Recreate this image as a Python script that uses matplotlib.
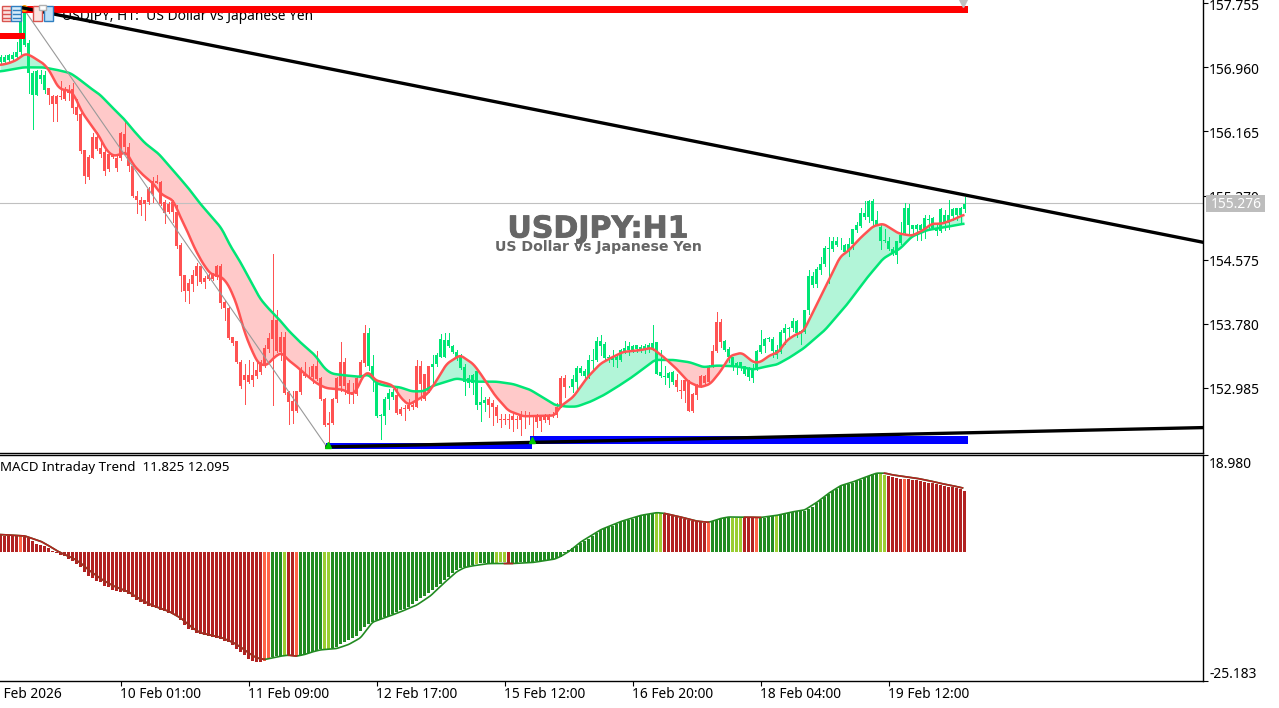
import numpy as np
import matplotlib
matplotlib.use("Agg")
import matplotlib.pyplot as plt
import matplotlib.patheffects as pe
from matplotlib.patches import Rectangle
from matplotlib.transforms import ScaledTranslation

# ---------------- data ----------------
highs = [157.11,157.11,157.13,157.15,157.28,157.65,157.69,157.30,156.91,156.93,
156.93,156.91,156.71,156.62,156.62,156.79,156.72,156.74,156.76,156.57,
156.39,155.94,155.87,156.14,156.16,156.06,155.93,155.89,155.89,155.87,
156.16,156.29,156.02,155.75,155.42,155.35,155.31,155.48,155.60,155.63,
155.55,155.31,155.29,155.31,155.25,154.78,154.38,154.34,154.44,154.53,
154.50,154.37,154.40,154.41,154.51,154.52,154.07,153.99,153.61,153.57,
153.33,153.28,153.33,153.30,153.30,153.33,153.51,153.66,154.65,153.95,
153.68,153.68,152.95,152.95,152.94,153.24,153.30,153.24,153.28,153.44,
153.12,152.86,152.68,152.86,153.12,153.55,153.35,153.08,153.04,153.12,
153.33,153.76,153.73,153.39,153.08,152.66,152.87,152.97,152.97,153.01,
152.75,152.77,152.85,152.79,153.33,153.32,153.16,153.26,153.39,153.41,
153.65,153.66,153.66,153.51,153.45,153.40,153.28,153.14,153.16,153.20,
152.99,152.87,152.87,152.83,152.77,152.66,152.66,152.66,152.68,152.64,
152.69,152.69,152.68,152.64,152.66,152.64,152.66,152.66,152.68,152.79,
153.13,153.14,153.01,153.14,153.26,153.25,153.22,153.39,153.47,153.61,
153.64,153.55,153.39,153.45,153.39,153.47,153.57,153.55,153.52,153.52,
153.51,153.53,153.54,153.76,153.55,153.45,153.26,153.18,153.19,153.15,
153.08,153.10,153.08,152.92,153.03,153.14,153.14,153.27,153.51,153.92,
153.84,153.58,153.49,153.37,153.30,153.31,153.26,153.24,153.28,153.45,
153.70,153.60,153.61,153.61,153.51,153.70,153.78,153.74,153.85,153.82,
153.70,153.95,154.44,154.42,154.48,154.61,154.74,154.86,154.86,154.85,
154.84,154.77,154.84,154.96,155.04,155.22,155.30,155.32,155.33,155.18,
155.00,154.96,154.85,154.73,154.81,155.04,155.28,155.26,155.01,155.02,
155.02,155.13,155.13,155.10,155.02,155.21,155.19,155.31,155.21,155.22,155.23,155.35]
body_top = [157.09,157.09,157.11,157.11,157.15,157.57,157.65,157.26,156.89,156.91,
156.86,156.86,156.70,156.61,156.61,156.60,156.68,156.68,156.69,156.47,
156.38,155.93,155.85,156.09,156.09,155.96,155.91,155.88,155.87,155.84,
156.14,156.13,155.97,155.73,155.37,155.32,155.31,155.45,155.55,155.55,
155.54,155.29,155.27,155.29,155.17,154.75,154.38,154.28,154.38,154.49,
154.49,154.35,154.38,154.39,154.50,154.50,154.05,153.98,153.61,153.57,
153.31,153.14,153.14,153.14,153.20,153.30,153.48,153.60,153.83,153.83,
153.61,153.61,152.93,152.82,152.94,153.22,153.15,153.13,153.26,153.26,
153.10,152.85,152.55,152.85,153.10,153.31,153.30,153.04,152.93,153.11,
153.30,153.66,153.66,153.26,153.04,152.65,152.85,152.92,152.93,152.90,
152.72,152.73,152.77,152.77,153.26,153.26,153.15,153.25,153.28,153.39,
153.59,153.58,153.58,153.50,153.43,153.39,153.24,153.11,153.14,153.19,
152.81,152.83,152.84,152.79,152.75,152.60,152.60,152.60,152.63,152.60,
152.64,152.64,152.64,152.64,152.64,152.63,152.63,152.64,152.65,152.75,
153.10,153.11,153.01,153.09,153.23,153.23,153.19,153.33,153.33,153.56,
153.57,153.53,153.37,153.35,153.36,153.45,153.48,153.50,153.50,153.51,
153.49,153.50,153.52,153.54,153.55,153.18,153.13,153.17,153.18,153.08,
152.96,153.08,153.06,152.91,153.01,153.13,153.13,153.26,153.44,153.80,
153.80,153.57,153.47,153.36,153.29,153.30,153.25,153.22,153.22,153.44,
153.51,153.59,153.60,153.59,153.45,153.68,153.72,153.72,153.81,153.81,
153.69,153.95,154.37,154.37,154.46,154.52,154.72,154.72,154.81,154.81,
154.76,154.75,154.77,154.95,155.00,155.15,155.15,155.30,155.30,155.06,
154.98,154.81,154.81,154.71,154.81,154.88,155.22,155.21,155.00,155.01,
155.01,155.09,155.08,155.09,154.97,155.20,155.13,155.13,155.20,155.21,155.22,155.27]
body_bot = [157.03,157.03,157.05,157.07,157.09,157.15,157.24,156.89,156.62,156.62,
156.82,156.68,156.62,156.50,156.50,156.59,156.57,156.64,156.46,156.37,
155.92,155.61,155.60,155.84,155.95,155.89,155.68,155.70,155.85,155.71,
155.83,155.97,155.73,155.36,155.32,155.25,155.26,155.29,155.39,155.53,
155.26,155.15,155.17,155.17,154.74,154.37,154.19,154.19,154.27,154.37,
154.30,154.30,154.33,154.33,154.36,154.04,153.97,153.60,153.54,153.30,
153.01,153.08,153.06,153.08,153.13,153.18,153.28,153.47,153.59,153.44,
153.43,152.92,152.81,152.70,152.70,152.93,153.13,153.12,153.12,153.09,
152.84,152.52,152.52,152.55,152.85,153.01,153.01,152.91,152.90,152.91,
153.11,153.29,153.26,153.13,152.63,152.63,152.64,152.85,152.87,152.67,
152.66,152.72,152.72,152.74,152.75,153.03,152.85,152.94,153.24,153.28,
153.37,153.37,153.50,153.43,153.36,153.23,153.06,153.04,153.04,152.77,
152.77,152.79,152.77,152.75,152.63,152.59,152.59,152.59,152.59,152.59,
152.59,152.62,152.63,152.63,152.56,152.57,152.59,152.59,152.63,152.65,
152.77,152.99,153.00,152.99,153.06,153.17,153.13,153.13,153.32,153.33,
153.50,153.35,153.35,153.33,153.33,153.33,153.44,153.45,153.45,153.46,
153.46,153.46,153.47,153.48,153.16,153.13,153.12,153.11,153.06,152.99,
152.95,152.94,152.70,152.69,152.89,152.99,153.04,153.06,153.26,153.44,
153.55,153.45,153.37,153.24,153.24,153.26,153.15,153.12,153.10,153.22,
153.43,153.50,153.59,153.44,153.39,153.43,153.66,153.71,153.72,153.66,
153.66,153.68,153.95,154.26,154.27,154.44,154.52,154.71,154.70,154.75,
154.75,154.67,154.67,154.77,154.94,154.99,155.10,155.10,155.05,155.01,
154.81,154.80,154.71,154.64,154.63,154.78,154.90,155.00,154.95,154.95,
154.94,154.94,155.07,154.97,154.93,154.93,155.02,155.03,155.11,155.13,155.13,155.20]
lows = [157.01,157.01,157.03,157.05,157.07,157.13,157.22,156.64,156.20,156.62,
156.76,156.64,156.51,156.29,156.29,156.57,156.55,156.55,156.39,156.31,
155.90,155.52,155.57,155.83,155.94,155.85,155.62,155.68,155.83,155.68,
155.81,155.89,155.68,155.35,155.15,155.13,155.06,155.27,155.29,155.52,
155.25,155.03,155.15,155.04,154.72,154.19,154.06,154.04,154.19,154.26,
154.28,154.22,154.32,154.32,154.34,153.97,153.82,153.59,153.51,153.29,
152.98,152.78,153.04,153.01,153.10,153.16,153.24,153.43,152.77,153.43,
153.33,152.91,152.53,152.55,152.68,152.91,153.12,153.10,153.04,153.08,
152.83,152.51,152.31,152.54,152.81,152.95,152.91,152.80,152.80,152.89,
153.08,153.26,153.20,152.94,152.62,152.35,152.53,152.72,152.85,152.66,
152.65,152.59,152.71,152.72,152.75,152.83,152.83,152.93,153.04,153.26,
153.36,153.36,153.49,153.42,153.33,153.22,152.89,152.99,152.91,152.72,
152.57,152.70,152.62,152.52,152.56,152.50,152.54,152.48,152.45,152.48,
152.40,152.48,152.54,152.37,152.50,152.45,152.56,152.53,152.62,152.62,
152.75,152.87,152.99,152.93,152.95,153.14,153.08,153.10,153.22,153.32,
153.39,153.33,153.30,153.26,153.24,153.32,153.41,153.39,153.43,153.43,
153.43,153.42,153.43,153.45,153.15,153.12,153.03,152.99,153.03,152.94,
152.86,152.81,152.70,152.68,152.84,152.99,153.03,153.04,153.24,153.43,
153.49,153.44,153.30,153.20,153.16,153.21,153.14,153.08,153.06,153.20,
153.41,153.43,153.57,153.37,153.35,153.41,153.53,153.62,153.69,153.61,
153.53,153.66,153.90,154.23,154.23,154.40,154.50,154.28,154.68,154.74,
154.71,154.66,154.62,154.71,154.92,154.98,155.08,155.04,155.00,155.00,
154.70,154.79,154.69,154.63,154.53,154.77,154.89,154.88,154.88,154.82,
154.82,154.84,154.94,154.95,154.88,154.92,154.94,154.96,155.06,155.06,155.04,155.17]
candle_runs = [("up",12),("dn",80),("up",7),("dn",9),("up",14),("dn",20),("up",27),("dn",12),("up",61)]

fast_k = [0,2,4,6.1,7.4,9,10.7,12.4,13.6,14.9,17.4,18.6,20.3,22.4,24.5,26.5,28.2,29.9,31.5,33.2,35.7,38.2,39.9,41.5,43.2,44.9,
          46.96,48.2,50.3,52.4,55.3,57,59,61.1,62.8,64.5,66.5,68.6,70.3,71.9,74,76.5,79,81.4,85.7,87.8,89,90.7,92.2,93.6,96.5,98.2,99.9,102,104,106.6,108.6,111.5,114.9,118.2,
          120,123.6,126.96,130.7,138.6,139.9,143.2,146.5,149.9,152.4,155.7,159.9,162.8,165.7,169,171.9,174.9,177.4,179.9,
          182.4,185.3,188.2,189.9,192.4,194.4,196.5,198.6,200.7,204,206.9,209.9,211.9,214.9,218.2,220.7,224.5,227.8,230.7,232.8,235.3,238.2,240.7]
fast_p = [156.99,157.01,157.05,157.13,157.11,157.06,157.01,156.91,156.78,156.69,156.67,156.60,156.41,156.26,156.12,155.93,155.86,155.88,155.91,155.75,155.62,155.52,155.40,155.35,155.31,155.11,
          154.90,154.75,154.55,154.40,154.36,154.26,154.03,153.66,153.45,153.28,153.26,153.37,153.42,153.33,153.25,153.14,153.04,152.98,152.96,152.90,152.95,153.14,153.18,153.08,153.04,153.01,152.87,152.77,152.83,152.90,153.04,153.28,153.39,153.28,
          153.16,152.89,152.70,152.63,152.64,152.75,152.87,153.10,153.28,153.35,153.43,153.45,153.48,153.37,153.22,153.06,152.99,153.03,153.18,
          153.38,153.42,153.30,153.30,153.39,153.42,153.57,153.64,153.68,154.01,154.30,154.61,154.68,154.84,154.99,155.02,154.90,154.87,154.94,155.02,155.02,155.07,155.13]
slow_k = [0,2.4,5.7,10.7,14,17.4,19.5,22,24.9,27.8,30.7,33.2,36.1,39.5,43.2,47,49.9,53.6,55.3,57.4,59.9,62.4,64.9,66.95,69.9,71.9,74.9,78.6,81.1,82.8,85.7,89.9,92,94,96.1,99.9,102.8,105.7,108.2,111.5,114,116.1,119,
          124,128.2,132.4,135.7,138.6,141.5,144,147.4,150.7,154,157.4,160.7,163.6,168.2,172.4,175.7,179,
          184,188.2,190.7,194,196.96,200.7,206.1,211.5,216.5,220.7,224.9,227.8,231.6,236.5,240.7]
slow_p = [156.91,156.93,156.96,156.96,156.93,156.89,156.82,156.72,156.62,156.47,156.33,156.18,156.02,155.89,155.68,155.46,155.27,155.06,154.96,154.75,154.55,154.32,154.09,153.97,153.82,153.70,153.55,153.39,153.22,153.16,153.14,153.12,153.15,153.04,153.01,152.99,152.94,152.94,153.01,153.06,153.10,153.08,153.06,
          153.06,153.03,152.96,152.86,152.77,152.75,152.75,152.81,152.89,152.99,153.10,153.22,153.33,153.33,153.30,153.24,153.26,
          153.25,153.21,153.24,153.27,153.35,153.47,153.70,154.01,154.34,154.59,154.71,154.86,154.94,154.98,155.02]

macd_hist = [3.37,3.18,3.12,3.12,3.12,3.06,2.93,2.73,2.09,1.56,
1.37,1.11,0.72,0.14,-0.20,-0.53,-0.84,-1.37,-1.70,-2.28,
-2.98,-3.96,-4.62,-5.07,-5.60,-5.85,-6.57,-6.83,-7.35,-7.66,
-7.80,-7.86,-8.19,-8.78,-9.42,-9.81,-10.14,-10.59,-10.78,-10.92,
-11.25,-11.56,-11.90,-12.09,-12.54,-13.32,-14.18,-14.96,-15.27,-15.80,
-15.99,-16.24,-16.44,-16.58,-16.71,-16.97,-17.30,-17.61,-18.08,-18.86,
-19.56,-20.14,-20.81,-21.20,-21.39,-21.39,-21.31,-20.67,-20.48,-20.34,
-20.22,-20.09,-20.09,-20.14,-20.34,-20.22,-20.03,-19.75,-19.50,-19.25,
-18.97,-18.86,-18.86,-18.72,-18.53,-17.94,-17.61,-17.22,-16.83,-16.32,
-15.46,-14.68,-13.98,-13.59,-13.32,-13.07,-12.73,-12.42,-12.09,-11.76,
-11.31,-11.06,-10.67,-10.14,-9.61,-9.03,-8.58,-7.94,-7.41,-6.88,
-6.30,-5.52,-4.82,-4.15,-3.51,-3.18,-2.87,-2.67,-2.54,-2.34,
-2.20,-2.20,-2.20,-2.09,-2.09,-2.01,-2.05,-2.14,-2.28,-2.08,
-2.05,-2.03,-1.95,-1.92,-1.88,-1.82,-1.75,-1.62,-1.43,-1.24,
-0.91,-0.26,0.32,0.72,1.23,1.69,2.21,2.54,3.12,3.64,
4.23,4.68,4.94,5.13,5.39,5.78,5.92,6.24,6.50,6.76,
7.02,7.22,7.35,7.54,7.61,7.54,7.35,7.22,7.08,6.83,
6.69,6.50,6.24,6.05,5.92,5.78,5.72,5.72,6.05,6.24,
6.44,6.69,6.76,6.69,6.69,6.69,6.69,6.69,6.69,6.57,
6.63,6.69,6.83,6.96,7.02,7.15,7.35,7.54,7.74,7.93,
7.93,8.06,8.32,8.84,9.49,10.14,10.73,11.37,11.90,12.22,
12.87,13.00,13.20,13.51,13.78,14.04,14.49,14.82,15.15,15.27,
15.27,15.02,14.82,14.62,14.37,14.30,14.30,14.18,14.10,13.98,
13.85,13.65,13.51,13.40,13.20,13.07,12.93,12.73,12.62,12.48,
12.34,11.825]
hist_runs = [("R",5),("T",1),("R",60),("T",2),("G",3),("L",1),("R",2),("T",1),("G",6),("L",2),("G",36),("L",1),("G",4),("L",3),("R",1),("G",36),("L",2),("R",11),("T",1),("G",5),("L",3),("R",3),("T",1),("G",4),("L",1),("G",25),("L",2),("R",4),("T",1),("R",15)]

sig_k = [0,6,8,10,12,14,16,18,20,22,25,28,32,35,38,42,45,48,50,55,58,60,62,64,66,68,70,72,74,76,78,80,84,87,90,93,96,98,100,104,107.5,111,114,116,118,122,126,127,128,133,138.5,140,142,145,150,155,160,164,166,170,174,177,180,182,186,188,190,194,198,201,204,207,210,213,216,219,221,222,223,226,229,232,235,238,240.5]
sig_v = [3.37,3.12,2.59,2.09,1.23,0.25,-0.53,-1.17,-2.15,-3.51,-5.21,-6.57,-7.80,-9.30,-10.47,-11.56,-12.87,-14.82,-15.80,-16.63,-17.61,-18.53,-19.70,-20.67,-21.00,-20.67,-20.34,-20.14,-20.34,-20.03,-19.50,-19.11,-18.86,-18.08,-16.77,-13.71,-12.87,-12.29,-11.70,-10.40,-8.58,-5.98,-3.90,-3.06,-2.73,-2.28,-2.28,-2.28,-2.28,-2.08,-1.43,-0.91,0.00,1.90,4.30,5.90,7.10,7.65,7.50,6.80,6.00,5.75,6.50,6.80,6.75,6.75,6.70,7.10,7.80,8.15,9.60,11.40,12.90,13.60,14.50,15.35,15.35,15.20,15.00,14.70,14.35,13.90,13.35,12.90,12.45]
sig_red_spans = [(0,66),(72,74),(126,128),(166,177),(186,190),(221,241)]

price_ticks = [157.755,156.960,156.165,155.370,154.575,153.780,152.985]
last_price = 155.276
macd_top, macd_bot = 18.980, -25.183
time_ticks = [-2,30,62,94,126,158,190,222]
time_labels = ["9 Feb 2026","10 Feb 01:00","11 Feb 09:00","12 Feb 17:00","15 Feb 12:00","16 Feb 20:00","18 Feb 04:00","19 Feb 12:00"]

resist_k, resist_p = [5.4,300.6],[157.70,154.79]
support_k, support_p = [81.6,300.6],[152.25,152.49]
fib_k, fib_p = [5.6,81.6],[157.70,152.25]

# ---------------- layout ----------------
W,H = 1279,708
FS = 9.9
plt.rcParams["font.family"] = "Noto Sans"
fig = plt.figure(figsize=(W/100,H/100),dpi=100,facecolor="white")
def axes_px(x0,y0,x1,y1):
    return fig.add_axes([x0/W,1-y1/H,(x1-x0)/W,(y1-y0)/H])
ax = axes_px(0,0,1203,452.5)
ax2 = axes_px(0,454.5,1203,681)
xlim = (-0.125,300.625)
for a in (ax,ax2):
    a.set_xlim(*xlim)
    for s in ("left","top"):
        a.spines[s].set_visible(False)
    for s in ("right","bottom"):
        a.spines[s].set_linewidth(1.0)
        a.spines[s].set_color("black")
    a.yaxis.tick_right()
ax2.spines["top"].set_visible(True); ax2.spines["top"].set_linewidth(1.0)
ax.set_ylim(152.181,157.796)
ax2.set_ylim(macd_bot,macd_top)

UP,DN = "#00E676","#FF5252"
k = np.arange(len(highs))
state = sum(([s]*n for s,n in candle_runs),[])
ccol = [UP if s=="up" else DN for s in state]

def rounded(xs,ys,span=1.6,end=240.7):
    g = np.arange(xs[0],end+0.001,0.1)
    y = np.interp(g,xs,ys)
    n = int(span/0.1)|1
    pad = n//2
    yy = np.convolve(np.r_[np.full(pad,y[0]),y,np.full(pad,y[-1])],np.ones(n)/n,mode="valid")
    return g,yy

gf,f = rounded(fast_k,fast_p)
gs,s = rounded(slow_k,slow_p)
ax.fill_between(gf,f,s,where=f>=s,interpolate=True,color="#B2F5D8",lw=0,zorder=1)
ax.fill_between(gf,f,s,where=f<s,interpolate=True,color="#FFC9C9",lw=0,zorder=1)

# candles
ax.vlines(k,lows,highs,colors=ccol,lw=0.72,zorder=2,antialiased=False)
hts = np.maximum(np.array(body_top)-np.array(body_bot),0.012)
ax.bar(k,hts,bottom=body_bot,width=0.75,color=ccol,lw=0,zorder=2.1,antialiased=False)

ax.axhline(last_price,color="#C0C0C0",lw=0.8,zorder=1.5)

ax.plot(gs,s,color=UP,lw=1.8,zorder=3,solid_joinstyle="round")
ax.plot(gf,f,color=DN,lw=1.8,zorder=3.1,solid_joinstyle="round")

# objects
ax.plot(fib_k,fib_p,color="#999999",lw=0.8,zorder=3.5)
ax.add_patch(Rectangle((5.0,157.64),236.9,0.08,color="#FF0000",lw=0,zorder=4))
ax.add_patch(Rectangle((-1,157.31),7.1,0.075,color="#FF0000",lw=0,zorder=4))
ax.add_patch(Rectangle((81.3,152.22),51.6,0.08,color="#0000FF",lw=0,zorder=4))
ax.add_patch(Rectangle((132.4,152.29),109.5,0.09,color="#0000FF",lw=0,zorder=4))
ax.plot(resist_k,resist_p,color="black",lw=2.4,zorder=4.5)
ax.plot(support_k,support_p,color="black",lw=2.4,zorder=4.5)
ax.plot([81.9,132.9],[152.27,152.33],ls="none",marker="^",ms=4,color="#00C800",zorder=5)
ax.plot([5.9],[157.70],ls="none",marker="o",ms=4,color="#FF9900",zorder=4.2)
ax.plot([240.6],[157.78],ls="none",marker="v",ms=9,color="#C0C0C0",zorder=5)

# ticks
ax.set_xticks([])
ax.set_yticks(price_ticks)
ax.set_yticklabels([f"{p:.3f}" for p in price_ticks])
ax.tick_params(axis="y",length=3.5,width=0.8,pad=0.8,labelsize=FS,colors="black")
down1 = ScaledTranslation(0,-1.2/100,fig.dpi_scale_trans)
for lb in ax.get_yticklabels():
    lb.set_transform(lb.get_transform()+down1)
ax2.set_yticks([macd_bot,macd_top])
ax2.set_yticklabels([])
ax2.tick_params(axis="y",length=3.5,width=0.8)
ax2.set_xticks(time_ticks[1:])
ax2.set_xticklabels([])
ax2.tick_params(axis="x",length=3.5,width=0.8)

# histogram and signal
hcol_map = {"R":"#B22222","T":"#FF6347","G":"#228B22","L":"#9ACD32"}
hcol = sum(([hcol_map[c]]*n for c,n in hist_runs),[])
ax2.bar(k,macd_hist,width=0.75,color=hcol,lw=0,zorder=2,antialiased=False)
gg,sv = rounded(sig_k,sig_v,span=1.0,end=240.5)
ax2.plot(gg,sv,color="#228B22",lw=1.2,zorder=3)
for a0,a1 in sig_red_spans:
    m = (gg>=a0)&(gg<=a1)
    ax2.plot(gg[m],sv[m],color="#B22222",lw=1.2,zorder=3.1)

# text
def T(x,y,s,**kw):
    kw.setdefault("va","center"); kw.setdefault("ha","left")
    kw.setdefault("fontsize",FS); kw.setdefault("color","black")
    return fig.text(x/W,1-y/H,s,**kw)
xt = ax2.get_xaxis_transform()
for tk,lb in zip(time_ticks,time_labels):
    ax2.text(tk,-0.058,lb,transform=xt,ha="left",va="center",fontsize=FS,clip_on=False)
ax.text(15.5,157.59,"USDJPY, H1:  US Dollar vs Japanese Yen",fontsize=FS,va="center",ha="left",zorder=1.8)
T(0,467.5,"MACD Intraday Trend  11.825 12.095",fontsize=9.6)
T(1209,464,"18.980"); T(1209,675,"-25.183")
halo = [pe.withStroke(linewidth=0.6,foreground="#666666")]
T(598,229,"USDJPY:H1",ha="center",fontsize=21.6,fontweight="bold",color="#666666",family="DejaVu Sans",path_effects=halo)
T(598.5,246.5,"US Dollar vs Japanese Yen",ha="center",fontsize=10.2,fontweight="bold",color="#666666",family="DejaVu Sans")

# current price tag
fig.patches.append(Rectangle((1206/W,1-212/H),59/W,17/H,transform=fig.transFigure,color="#BDBDBD",lw=0,zorder=6))
T(1236,204,"155.276",ha="center",color="white",zorder=7)

# toolbar icons
def box(x0,y0,x1,y1,fc,ec):
    fig.patches.append(Rectangle((x0/W,1-y1/H),(x1-x0)/W,(y1-y0)/H,transform=fig.transFigure,fc=fc,ec=ec,lw=1,zorder=8))
box(1.5,6,11,21,"#FBE3DF","#D9534F")
box(11,6,21,21,"#D8ECFA","#2F7FC1")
for yy in (10,14,18):
    fig.add_artist(plt.Line2D([3/W,10/W],[1-yy/H]*2,color="#D9534F",lw=1,zorder=9))
    fig.add_artist(plt.Line2D([12.5/W,19.5/W],[1-yy/H]*2,color="#2F7FC1",lw=1,zorder=9))
box(32.5,6,42,21,"#FBE3DF","#D9534F")
box(44,6,53,21,"#BFE0F7","#2F7FC1")
box(39,5,46,9.5,"white","#B0B0B0")

fig.savefig("out.png",dpi=100,facecolor="white")
